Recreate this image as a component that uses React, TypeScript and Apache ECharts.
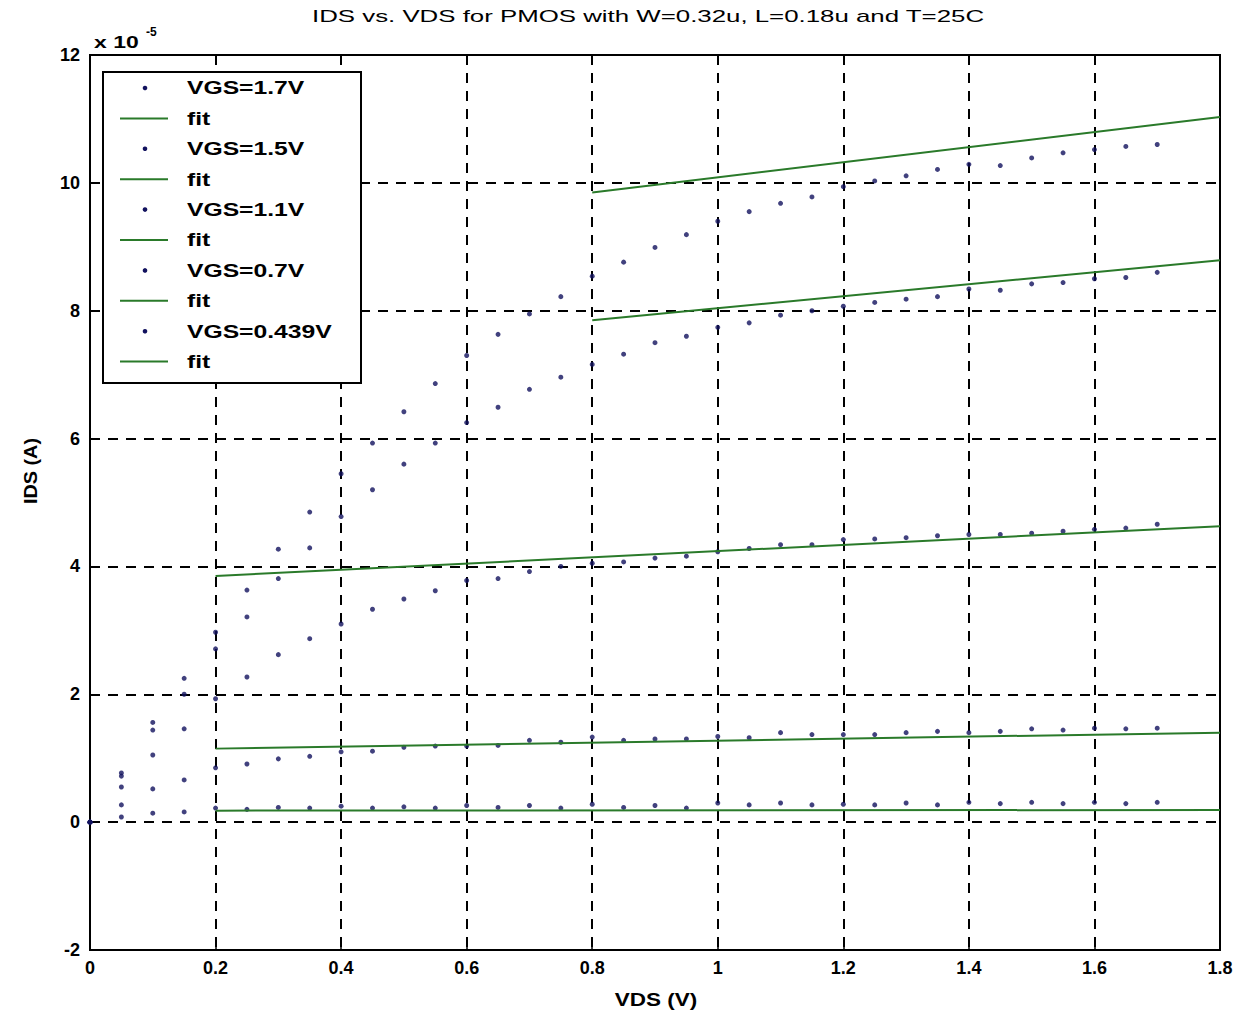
import { useEffect, useRef } from "react";
import * as echarts from "echarts";

// Drain voltage samples (V)
const VDS = [0, 0.05, 0.1, 0.15, 0.2, 0.25, 0.3, 0.35, 0.4, 0.45, 0.5, 0.55, 0.6, 0.65, 0.7, 0.75, 0.8, 0.85, 0.9, 0.95, 1.0, 1.05, 1.1, 1.15, 1.2, 1.25, 1.3, 1.35, 1.4, 1.45, 1.5, 1.55, 1.6, 1.65, 1.7];

// Measured IDS (x 1e-5 A)
const IDS_VGS_17 = [0, 0.77, 1.56, 2.25, 2.97, 3.63, 4.27, 4.85, 5.45, 5.93, 6.42, 6.86, 7.3, 7.63, 7.95, 8.22, 8.54, 8.76, 8.99, 9.19, 9.4, 9.55, 9.68, 9.78, 9.94, 10.03, 10.11, 10.21, 10.29, 10.27, 10.39, 10.47, 10.52, 10.57, 10.6];
const IDS_VGS_15 = [0, 0.72, 1.44, 2.0, 2.71, 3.21, 3.81, 4.29, 4.78, 5.2, 5.6, 5.93, 6.25, 6.49, 6.77, 6.96, 7.16, 7.32, 7.5, 7.6, 7.74, 7.81, 7.93, 8.0, 8.07, 8.13, 8.18, 8.22, 8.34, 8.32, 8.42, 8.44, 8.5, 8.52, 8.6];
const IDS_VGS_11 = [0, 0.55, 1.05, 1.46, 1.93, 2.27, 2.62, 2.87, 3.1, 3.33, 3.49, 3.62, 3.78, 3.81, 3.92, 4.0, 4.05, 4.07, 4.13, 4.16, 4.23, 4.28, 4.34, 4.34, 4.42, 4.43, 4.45, 4.48, 4.5, 4.5, 4.52, 4.55, 4.58, 4.6, 4.66];
const IDS_VGS_07 = [0, 0.27, 0.52, 0.66, 0.85, 0.91, 0.99, 1.03, 1.1, 1.11, 1.17, 1.19, 1.19, 1.2, 1.28, 1.25, 1.33, 1.28, 1.3, 1.3, 1.34, 1.32, 1.4, 1.37, 1.37, 1.37, 1.4, 1.42, 1.4, 1.42, 1.46, 1.44, 1.47, 1.46, 1.47];
const IDS_VGS_0439 = [0, 0.08, 0.14, 0.16, 0.22, 0.2, 0.23, 0.22, 0.25, 0.22, 0.24, 0.22, 0.26, 0.23, 0.26, 0.22, 0.28, 0.23, 0.26, 0.22, 0.3, 0.27, 0.3, 0.27, 0.28, 0.27, 0.3, 0.27, 0.31, 0.29, 0.31, 0.29, 0.31, 0.29, 0.31];

// Fit lines (end points)
const FIT_X_HIGH = [0.8, 1.8];
const FIT_X_LOW = [0.2, 1.8];
const FIT_17 = [9.85, 11.03];
const FIT_15 = [7.85, 8.79];
const FIT_11 = [3.85, 4.63];
const FIT_07 = [1.15, 1.4];
const FIT_0439 = [0.18, 0.19];

const SERIES_NAMES = ["VGS=1.7V", "VGS=1.5V", "VGS=1.1V", "VGS=0.7V", "VGS=0.439V"];
const LEGEND_LABELS = ["VGS=1.7V", "fit", "VGS=1.5V", "fit", "VGS=1.1V", "fit", "VGS=0.7V", "fit", "VGS=0.439V", "fit"];

const TITLE = "IDS vs. VDS for PMOS with W=0.32u, L=0.18u and T=25C";
const X_NAME = "VDS (V)";
const Y_NAME = "IDS (A)";

const X_MIN = 0, X_MAX = 1.8, X_STEP = 0.2;
const Y_MIN = -2, Y_MAX = 12, Y_STEP = 2;

const FONT = "Liberation Sans, Arial, sans-serif";
const MARKER_COLOR = "#12125e";
const FIT_COLOR = "#2a7a2a";

export default function App() {
  const ref = useRef<HTMLDivElement>(null);

  useEffect(() => {
    const chart = echarts.init(ref.current!, null, { renderer: "svg" });

    const measured = [IDS_VGS_17, IDS_VGS_15, IDS_VGS_11, IDS_VGS_07, IDS_VGS_0439];
    const fits: [number[], number[]][] = [
      [FIT_X_HIGH, FIT_17],
      [FIT_X_HIGH, FIT_15],
      [FIT_X_LOW, FIT_11],
      [FIT_X_LOW, FIT_07],
      [FIT_X_LOW, FIT_0439],
    ];

    const series: any[] = [];
    measured.forEach((ids, k) => {
      series.push({
        type: "scatter",
        name: SERIES_NAMES[k],
        data: VDS.map((v, i) => [v, ids[i]]),
        symbol: "circle",
        symbolSize: 5,
        itemStyle: { color: MARKER_COLOR },
        z: 3,
      });
      const [fx, fy] = fits[k];
      series.push({
        type: "line",
        name: "fit " + SERIES_NAMES[k],
        data: fx.map((v, i) => [v, fy[i]]),
        showSymbol: false,
        symbol: "none",
        lineStyle: { color: FIT_COLOR, width: 2 },
        z: 4,
      });
    });

    const axisCommon = {
      type: "value",
      axisLine: { show: true, onZero: false, lineStyle: { color: "#000", width: 2 } },
      axisTick: { show: true, inside: true, length: 6, lineStyle: { color: "#000", width: 1.5 } },
      axisLabel: { color: "#000", fontSize: 18, fontWeight: "bold", fontFamily: FONT },
      splitLine: { show: true, lineStyle: { color: "#000", width: 2, type: [10, 8] } },
    };

    const textStyle = (text: string, size: number, align: string, weight = "bold") => ({
      text,
      fontSize: size,
      fontWeight: weight,
      fontFamily: FONT,
      fill: "#000",
      textAlign: align,
      textVerticalAlign: "middle",
      align,
      verticalAlign: "middle",
    });

    // Legend drawn as graphic elements
    const lx = 103, ly = 72, lw = 258, lh = 311;
    const rowY0 = 88, rowStep = 30.4;
    const legendChildren: any[] = [
      {
        type: "rect",
        shape: { x: lx, y: ly, width: lw, height: lh },
        style: { fill: "#fff", stroke: "#000", lineWidth: 2 },
      },
    ];
    LEGEND_LABELS.forEach((label, i) => {
      const cy = rowY0 + rowStep * i;
      if (label === "fit") {
        legendChildren.push({
          type: "line",
          shape: { x1: 120, y1: cy, x2: 168, y2: cy },
          style: { stroke: FIT_COLOR, lineWidth: 2 },
        });
      } else {
        legendChildren.push({
          type: "circle",
          shape: { cx: 145, cy, r: 2.3 },
          style: { fill: MARKER_COLOR },
        });
      }
      legendChildren.push({
        type: "text",
        x: 187,
        y: cy,
        scaleX: 1.3,
        style: textStyle(label, 19, "left"),
      });
    });

    const option: any = {
      animation: false,
      backgroundColor: "#fff",
      grid: {
        left: 90,
        top: 55,
        right: 19,
        bottom: 68,
        show: true,
        borderColor: "#000",
        borderWidth: 2,
        backgroundColor: "transparent",
      },
      xAxis: {
        ...axisCommon,
        min: X_MIN,
        max: X_MAX,
        interval: X_STEP,
        axisLabel: { ...axisCommon.axisLabel, margin: 9 },
      },
      yAxis: {
        ...axisCommon,
        min: Y_MIN,
        max: Y_MAX,
        interval: Y_STEP,
        axisLabel: { ...axisCommon.axisLabel, margin: 10 },
      },
      series,
      graphic: [
        {
          type: "text",
          x: 648,
          y: 16,
          scaleX: 1.52,
          z: 100,
          style: textStyle(TITLE, 17, "center", "normal"),
        },
        {
          type: "text",
          x: 656,
          y: 1000,
          scaleX: 1.25,
          z: 100,
          style: textStyle(X_NAME, 18, "center"),
        },
        {
          type: "text",
          x: 31,
          y: 471,
          rotation: Math.PI / 2,
          scaleX: 1.1,
          z: 100,
          style: textStyle(Y_NAME, 18, "center"),
        },
        {
          type: "text",
          x: 94,
          y: 42,
          scaleX: 1.35,
          z: 100,
          style: textStyle("x 10", 17, "left"),
        },
        {
          type: "text",
          x: 146,
          y: 32,
          z: 100,
          style: textStyle("-5", 12, "left"),
        },
        {
          type: "group",
          z: 100,
          children: legendChildren.map((c) => ({ ...c, z: 100 })),
        },
      ],
    };

    chart.setOption(option);
    return () => chart.dispose();
  }, []);

  return (
    <div
      ref={ref}
      style={{ position: "fixed", left: 0, top: 0, width: 1239, height: 1018, background: "#fff" }}
    />
  );
}
